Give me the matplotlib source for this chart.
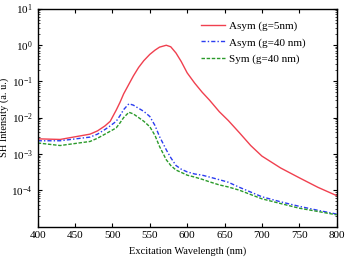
import numpy as np
import matplotlib
matplotlib.use("Agg")
import matplotlib.pyplot as plt
from matplotlib.ticker import LogLocator, MultipleLocator, NullFormatter

plt.rcParams['font.family'] = ['Liberation Serif', 'DejaVu Serif']
plt.rcParams['mathtext.fontset'] = 'stix'

# excitation wavelength (nm)
wl = [400, 430, 470, 480, 490, 497, 505, 510, 515, 522, 528, 535, 542, 550, 557, 563,
      572, 578, 585, 592, 600, 610, 620, 630, 643, 655, 670, 685, 700, 725, 750, 775, 800]

# SH intensity (a. u.)
asym_5nm = [2.6e-3, 2.5e-3, 3.5e-3, 4.3e-3, 5.9e-3, 7.9e-3, 1.6e-2, 2.6e-2, 4.5e-2,
            8.3e-2, 0.14, 0.24, 0.37, 0.55, 0.72, 0.87, 0.98, 0.89, 0.60, 0.35, 0.17,
            0.089, 0.050, 0.030, 0.0145, 8.3e-3, 3.8e-3, 1.7e-3, 8.7e-4, 4.1e-4,
            2.2e-4, 1.2e-4, 7.1e-5]
asym_40nm = [2.3e-3, 2.3e-3, 2.9e-3, 3.5e-3, 4.7e-3, 5.9e-3, 7.9e-3, 1.12e-2, 1.66e-2,
             2.4e-2, 2.2e-2, 1.8e-2, 1.48e-2, 1.07e-2, 6.0e-3, 3.0e-3, 1.3e-3, 7.9e-4,
             4.8e-4, 3.8e-4, 3.2e-4, 2.8e-4, 2.6e-4, 2.3e-4, 1.95e-4, 1.66e-4, 1.2e-4,
             8.9e-5, 6.6e-5, 4.8e-5, 3.6e-5, 2.8e-5, 2.2e-5]
sym_40nm = [2.0e-3, 1.7e-3, 2.2e-3, 2.7e-3, 3.5e-3, 4.2e-3, 5.2e-3, 7.1e-3, 1.0e-2,
            1.4e-2, 1.26e-2, 1.0e-2, 7.9e-3, 5.6e-3, 3.2e-3, 1.6e-3, 6.9e-4, 4.8e-4,
            3.6e-4, 3.1e-4, 2.6e-4, 2.3e-4, 2.0e-4, 1.7e-4, 1.4e-4, 1.23e-4, 1.0e-4,
            7.6e-5, 5.8e-5, 4.3e-5, 3.2e-5, 2.6e-5, 2.1e-5]

fig = plt.figure(figsize=(3.46, 2.61), dpi=100)
ax = fig.add_axes([0.109, 0.132, 0.864, 0.835])

ax.semilogy(wl, asym_5nm, color='#f0404f', lw=1.0, label='Asym (g=5nm)')
ax.semilogy(wl, asym_40nm, color='#2a3cf0', lw=1.0, ls=(0, (3, 1.5, 1, 1.5)),
            label='Asym (g=40 nm)')
ax.semilogy(wl, sym_40nm, color='#2a9a2a', lw=1.0, ls=(0, (2.5, 1.2)),
            label='Sym (g=40 nm)')

ax.set_xlim(400, 800)
ax.set_ylim(1e-5, 1e1)
ax.xaxis.set_major_locator(MultipleLocator(50))
ax.yaxis.set_minor_locator(LogLocator(base=10, subs=np.arange(2, 10), numticks=10))
ax.yaxis.set_minor_formatter(NullFormatter())
ax.set_yticks([1e-4, 1e-3, 1e-2, 1e-1, 1e0, 1e1])

ax.tick_params(which='both', direction='in', top=True, right=True, labelsize=8)
ax.tick_params(which='major', length=3, width=0.8)
ax.tick_params(which='minor', length=1.5, width=0.5)
for s in ax.spines.values():
    s.set_linewidth(1.0)

ax.set_xlabel('Excitation Wavelength (nm)', fontsize=7.5, labelpad=4)
ax.set_ylabel('SH Intensity (a. u.)', fontsize=7.5, labelpad=2)

ax.legend(loc='upper right', bbox_to_anchor=(0.93, 0.99), frameon=False,
          fontsize=8, handlelength=2.1, labelspacing=0.6, handletextpad=0.4)

fig.savefig('out.png', dpi=100)
